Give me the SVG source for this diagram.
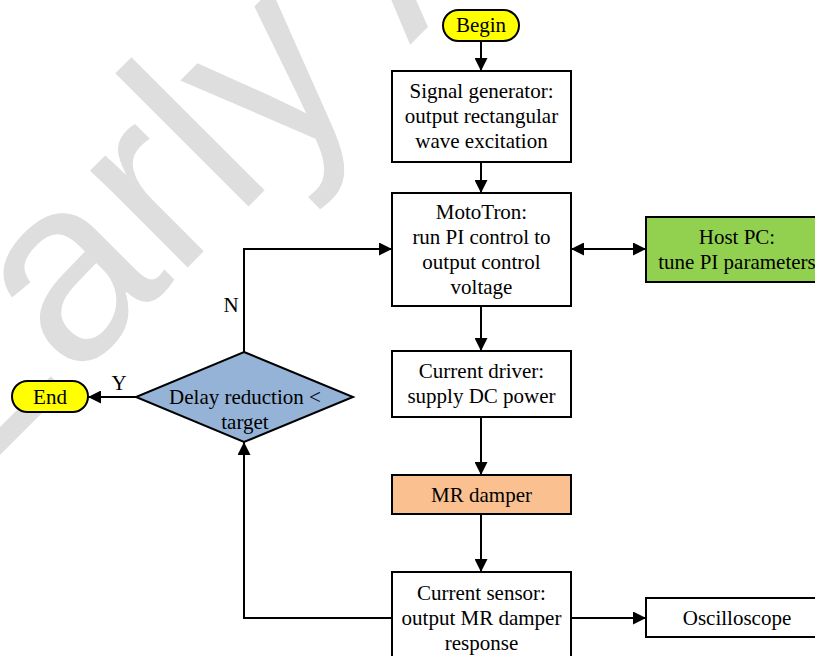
<svg xmlns="http://www.w3.org/2000/svg" width="815" height="656" viewBox="0 0 815 656">
<style>
.box{fill:#fff;stroke:#000;stroke-width:2}
.t{font-family:"Liberation Serif","Times New Roman",serif;font-size:21px;fill:#000;text-anchor:middle}
.c{fill:none;stroke:#000;stroke-width:2}
.wm{font-family:"Liberation Sans",Arial,sans-serif;font-size:260px;fill:#DEDEDE}
</style>
<defs>
<marker id="ah" markerUnits="userSpaceOnUse" markerWidth="13" markerHeight="13" refX="12" refY="6" orient="auto-start-reverse" viewBox="0 0 12 12">
<path d="M0,0 L12,6 L0,12 z" fill="#000"/>
</marker>
</defs>
<rect width="815" height="656" fill="#fff"/>
<g id="watermark">
<text class="wm" transform="translate(-50,505) rotate(-45)">Early Access</text>
</g>
<g id="connectors">
<path class="c" d="M481,41 V71" marker-end="url(#ah)"/>
<path class="c" d="M481,162 V193" marker-end="url(#ah)"/>
<path class="c" d="M571,249 H646" marker-start="url(#ah)" marker-end="url(#ah)"/>
<path class="c" d="M481,306 V351" marker-end="url(#ah)"/>
<path class="c" d="M481,417 V475" marker-end="url(#ah)"/>
<path class="c" d="M481,514 V572" marker-end="url(#ah)"/>
<path class="c" d="M571,618 H646" marker-end="url(#ah)"/>
<path class="c" d="M392,618 H244 V442" marker-end="url(#ah)"/>
<path class="c" d="M244,352 V249 H392" marker-end="url(#ah)"/>
<path class="c" d="M136,397 H88" marker-end="url(#ah)"/>
<text class="t" x="231" y="312">N</text>
<text class="t" x="119" y="390">Y</text>
</g>
<g id="begin">
<rect x="443" y="10" width="76" height="31" rx="15.5" fill="#FFFF00" stroke="#000" stroke-width="2"/>
<text class="t" x="481" y="32">Begin</text>
</g>
<g id="signal-generator">
<rect class="box" x="392" y="71" width="179" height="91"/>
<text class="t" x="481.5" y="98">Signal generator:</text>
<text class="t" x="481.5" y="123">output rectangular</text>
<text class="t" x="481.5" y="148">wave excitation</text>
</g>
<g id="mototron">
<rect class="box" x="392" y="193" width="179" height="113"/>
<text class="t" x="481.5" y="219">MotoTron:</text>
<text class="t" x="481.5" y="244">run PI control to</text>
<text class="t" x="481.5" y="269">output control</text>
<text class="t" x="481.5" y="294">voltage</text>
</g>
<g id="host-pc">
<rect x="646" y="217" width="182" height="65" fill="#92D050" stroke="#000" stroke-width="2"/>
<text class="t" x="737" y="244">Host PC:</text>
<text class="t" x="737" y="269">tune PI parameters</text>
</g>
<g id="current-driver">
<rect class="box" x="392" y="351" width="179" height="66"/>
<text class="t" x="481.5" y="378">Current driver:</text>
<text class="t" x="481.5" y="403">supply DC power</text>
</g>
<g id="mr-damper">
<rect x="392" y="475" width="179" height="39" fill="#FAC090" stroke="#000" stroke-width="2"/>
<text class="t" x="481.5" y="502">MR damper</text>
</g>
<g id="current-sensor">
<rect class="box" x="392" y="572" width="179" height="96"/>
<text class="t" x="481.5" y="600">Current sensor:</text>
<text class="t" x="481.5" y="625">output MR damper</text>
<text class="t" x="481.5" y="650">response</text>
</g>
<g id="oscilloscope">
<rect class="box" x="646" y="598" width="182" height="39"/>
<text class="t" x="737" y="625">Oscilloscope</text>
</g>
<g id="decision">
<polygon points="244,352 353,397 244,442 136,397" fill="#95B3D7" stroke="#000" stroke-width="2"/>
<text class="t" x="245" y="404">Delay reduction &lt;</text>
<text class="t" x="245" y="429">target</text>
</g>
<g id="end">
<rect x="12" y="381" width="76" height="31" rx="15.5" fill="#FFFF00" stroke="#000" stroke-width="2"/>
<text class="t" x="50" y="404">End</text>
</g>
</svg>
